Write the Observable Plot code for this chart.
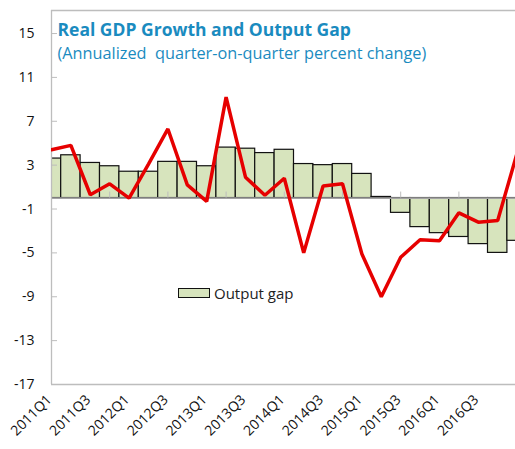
<!DOCTYPE html>
<html>
<head>
<meta charset="utf-8">
<script src="https://cdn.jsdelivr.net/npm/d3@7"></script>
<script src="https://cdn.jsdelivr.net/npm/@observablehq/plot@0.6"></script>
<style>
  html, body { margin: 0; padding: 0; background: #fff; }
  #chart { position: relative; width: 515px; height: 449px; font-family: "Open Sans", sans-serif; }
  .legend { position: absolute; left: 178px; top: 283px; display: flex; align-items: center; font-size: 15px; color: #222; white-space: nowrap; }
  .legend .sw { width: 30px; height: 8px; background: #d7e4bd; border: 1px solid #111; margin-right: 4px; }
</style>
</head>
<body>
<div id="chart"></div>
<script>
const quarters = [
  "2011Q1","2011Q2","2011Q3","2011Q4","2012Q1","2012Q2","2012Q3","2012Q4",
  "2013Q1","2013Q2","2013Q3","2013Q4","2014Q1","2014Q2","2014Q3","2014Q4",
  "2015Q1","2015Q2","2015Q3","2015Q4","2016Q1","2016Q2","2016Q3","2016Q4","2017Q1"
];
const outputGap = [3.6, 3.9, 3.2, 2.9, 2.4, 2.4, 3.3, 3.3, 2.9, 4.6, 4.5, 4.1, 4.4, 3.1, 3.0, 3.1, 2.2, 0.1, -1.35, -2.65, -3.2, -3.55, -4.2, -5.0, -3.9];
const gdpGrowth = [4.4, 4.8, 0.3, 1.3, 0.0, 3.1, 6.3, 1.2, -0.3, 9.2, 1.9, 0.25, 1.8, -5.0, 1.1, 1.3, -5.1, -9.0, -5.4, -3.8, -3.9, -1.35, -2.2, -2.05, 4.1];
const yTicks = [-17, -13, -9, -5, -1, 3, 7, 11, 15];
const yDomain = [-17, 17.1];
const title = "Real GDP Growth and Output Gap";
const subtitle = "(Annualized\u00a0 quarter-on-quarter percent change)";
const legendLabel = "Output gap";

const data = quarters.map((q, i) => ({i, q, gap: outputGap[i], growth: gdpGrowth[i]}));
const labelRows = data.filter(d => d.i % 2 === 0 && d.i < quarters.length - 1);
const zeroTickRows = data.filter(d => d.i % 3 === 0 && d.i > 0);

const gray = "#bdbdbd";
const blue = "#1a8bbf";

const plot = Plot.plot({
  width: 515,
  height: 449,
  marginLeft: 51,
  marginRight: 0,
  marginTop: 10,
  marginBottom: 65,
  style: {fontFamily: '"Open Sans", sans-serif', fontSize: "14px", color: "#000", background: "#fff"},
  x: {type: "linear", domain: [0, quarters.length - 1], range: [51, 516.6], axis: null},
  y: {domain: yDomain, axis: null},
  marks: [
    Plot.rectY(data, {x1: d => d.i - 0.5, x2: d => d.i + 0.5, y: "gap", fill: "#d7e4bd", stroke: "#111", strokeWidth: 1.2, clip: true}),
    Plot.ruleY([0], {stroke: "#a3a3a3", strokeWidth: 1.8}),
    Plot.ruleX(zeroTickRows, {x: "i", y1: 0, y2: 0, insetTop: -6, stroke: gray, strokeWidth: 1}),
    Plot.ruleX([0], {stroke: gray, strokeWidth: 1.3}),
    Plot.ruleY(yDomain, {stroke: gray, strokeWidth: 1.3}),
    Plot.ruleY(yTicks, {y: d => d, x1: 0, x2: 0, insetRight: -6, stroke: gray, strokeWidth: 1}),
    Plot.line(data, {x: "i", y: "growth", stroke: "#e60000", strokeWidth: 3.5, strokeLinejoin: "miter", clip: true}),
    Plot.text(yTicks, {y: d => d, text: d => String(d), frameAnchor: "left", textAnchor: "end", dx: -17, fontSize: 14, fill: "#111"}),
    Plot.text(labelRows, {x: "i", text: "q", frameAnchor: "bottom", rotate: -45, textAnchor: "end", dx: 1, dy: 16, fontSize: 14, fill: "#111"}),
    Plot.text([title], {text: d => d, frameAnchor: "top-left", lineAnchor: "top", dx: 6, dy: 12.8, fontSize: 17.5, fontWeight: "bold", fill: blue}),
    Plot.text([subtitle], {text: d => d, frameAnchor: "top-left", lineAnchor: "top", dx: 6, dy: 37, fontSize: 16.3, fill: blue})
  ]
});

const chart = document.getElementById("chart");
chart.appendChild(plot);
const legend = document.createElement("div");
legend.className = "legend";
legend.innerHTML = `<span class="sw"></span><span>${legendLabel}</span>`;
chart.appendChild(legend);
</script>
</body>
</html>
